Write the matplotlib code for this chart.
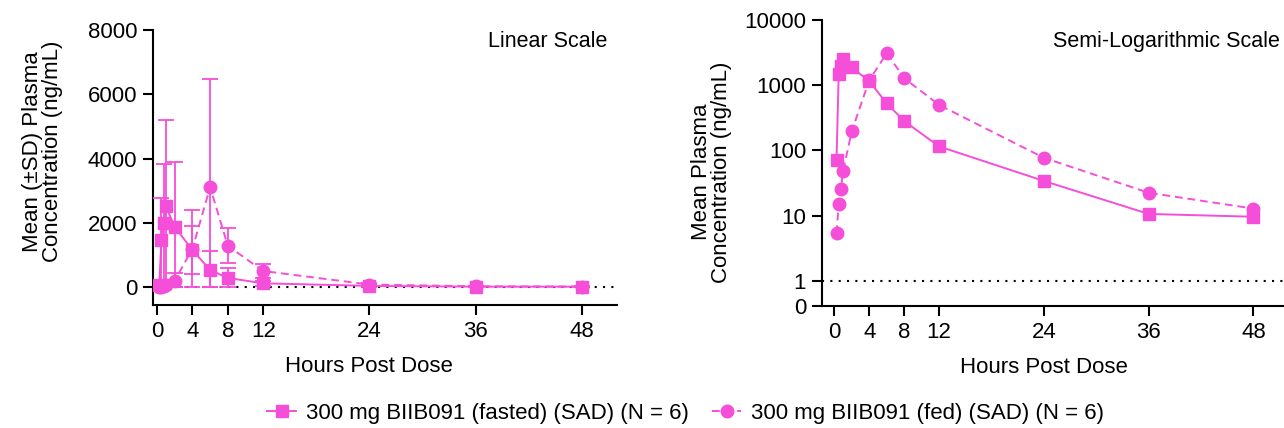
import numpy as np
import matplotlib
matplotlib.use("Agg")
import matplotlib.pyplot as plt

plt.rcParams['font.family'] = ['Liberation Sans', 'DejaVu Sans']

# sampling times (h)
hours = [0.25, 0.5, 0.75, 1, 2, 4, 6, 8, 12, 24, 36, 48]

# 300 mg fasted
fasted_mean = [71, 1476, 1982, 2512, 1872, 1150, 528, 282, 115, 34, 10.6, 9.6]
fasted_sd   = [60, 1290, 1840, 2690, 2015, 760, 580, 310, 70, 25, 8, 6]

# 300 mg fed
fed_mean = [5.4, 15, 26, 48, 198, 1190, 3108, 1282, 498, 77, 22.4, 12.8]
fed_sd   = [4, 10, 20, 40, 237, 1210, 3360, 550, 230, 40, 10, 6]

lab_fasted = "300 mg BIIB091 (fasted) (SAD) (N = 6)"
lab_fed = "300 mg BIIB091 (fed) (SAD) (N = 6)"
xticks = [0, 4, 8, 12, 24, 36, 48]

pink = '#f54ed8'
fs = 16

fig = plt.figure(figsize=(12.84, 4.28), dpi=100)
ax1 = fig.add_axes([0.1192, 0.2874, 0.3614, 0.6425])
ax2 = fig.add_axes([0.6402, 0.2850, 0.3598, 0.6682])

def style(ax):
    for s in ['top', 'right']:
        ax.spines[s].set_visible(False)
    for s in ['left', 'bottom']:
        ax.spines[s].set_linewidth(1.5)
    ax.tick_params(axis='both', width=1.5, length=7.5, labelsize=fs, pad=4)
    ax.tick_params(axis='both', which='minor', length=0)
    ax.set_xticks(xticks)
    ax.set_xlabel('Hours Post Dose', fontsize=fs)

# linear panel, lower error bars stop at zero
fm = np.array(fasted_mean); fsd = np.array(fasted_sd)
em = np.array(fed_mean); esd = np.array(fed_sd)
ax1.axhline(0, color='k', ls=(0, (1, 3)), lw=1.5, zorder=1)
ax1.errorbar(hours, fm, yerr=[np.minimum(fsd, fm), fsd], color=pink, marker='s', ms=9,
             lw=1.4, elinewidth=1.3, capsize=6, capthick=1.3, zorder=3, label=lab_fasted)
ax1.errorbar(hours, em, yerr=[np.minimum(esd, em), esd], color=pink, marker='o', ms=9,
             ls=(0, (4, 2.5)), lw=1.4, elinewidth=1.3, capsize=6, capthick=1.3, zorder=3, label=lab_fed)
ax1.set_xlim(-0.45, 52.0)
ax1.set_ylim(-560, 8000)
ax1.set_yticks([0, 2000, 4000, 6000, 8000])
style(ax1)
ax1.set_ylabel('Mean (\u00b1SD) Plasma\nConcentration (ng/mL)', fontsize=fs, linespacing=0.95)
ax1.yaxis.set_label_coords(-0.194, 0.558)
ax1.xaxis.set_label_coords(0.466, -0.185)
ax1.text(0.978, 0.995, 'Linear Scale', transform=ax1.transAxes, ha='right', va='top', fontsize=15.5)

# semi-log panel
ax2.axhline(1, color='k', ls=(0, (1, 3)), lw=1.5, zorder=1)
ax2.plot(hours, fasted_mean, color=pink, marker='s', ms=9, lw=1.4, zorder=3)
ax2.plot(hours, fed_mean, color=pink, marker='o', ms=9, ls=(0, (4, 2.5)), lw=1.4, zorder=3)
ax2.set_yscale('log')
ax2.set_xlim(-1.41, 51.5)
ax2.set_ylim(0.41, 10000)
ax2.set_yticks([0.41, 1, 10, 100, 1000, 10000])
ax2.set_yticklabels(['0', '1', '10', '100', '1000', '10000'])
style(ax2)
ax2.set_ylabel('Mean Plasma\nConcentration (ng/mL)', fontsize=fs, linespacing=0.95)
ax2.yaxis.set_label_coords(-0.195, 0.469)
ax2.xaxis.set_label_coords(0.480, -0.178)
ax2.text(0.991, 0.96, 'Semi-Logarithmic Scale', transform=ax2.transAxes, ha='right', va='top', fontsize=15.5)

h, l = ax1.get_legend_handles_labels()
h = [hh[0] for hh in h]
fig.legend(h, l, loc='center', bbox_to_anchor=(0.534, 0.035), ncol=2, frameon=False,
           fontsize=fs, handlelength=1.3, handletextpad=0.45, columnspacing=1.05)

fig.savefig('out.png', dpi=100)
